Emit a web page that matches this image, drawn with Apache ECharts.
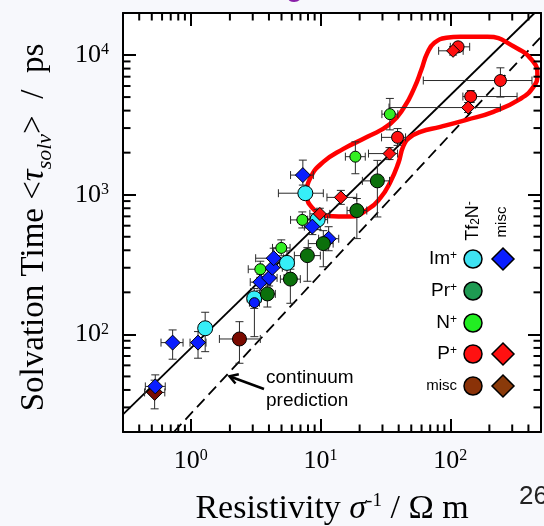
<!DOCTYPE html>
<html>
<head>
<meta charset="utf-8">
<script src="https://cdn.jsdelivr.net/npm/echarts@6/dist/echarts.min.js"></script>
<style>
  html, body { margin: 0; padding: 0; background: #f7f8fc; }
  #chart { width: 544px; height: 526px; }
</style>
</head>
<body>
<div id="chart"></div>
<script>
// Solvation time vs. resistivity of ionic liquids.
// Each point: [resistivity (Ω m), <τsolv> (ps), xLow, xHigh, yLow, yHigh]
const imTf2N = [
  [1.29, 110.6, 1.16, 1.44, 75.2, 144],
  [3.08, 181, 2.72, 3.49, 153.5, 213],
  [5.51, 325, 4.87, 6.24, 266, 396],
  [9.49, 663, 7.95, 11.33, 562, 782],
  [7.63, 1025, 4.73, 10.5, 944, 1113]
];
const imMisc = [
  [0.532, 42.4, 0.446, 0.635, 36.9, 51.3],
  [0.724, 87.3, 0.589, 0.871, 66.4, 107.6],
  [1.136, 87.3, 0.986, 1.309, 67.5, 104.7],
  [3.43, 236.6, 2.87, 4.10, 207, 270],
  [4.01, 253.7, 3.48, 4.62, 222, 289],
  [4.25, 300, 3.56, 5.07, 254, 354],
  [4.35, 351, 3.16, 5.19, 298, 414],
  [8.64, 591, 7.5, 9.95, 518, 674],
  [11.54, 484, 9.66, 13.8, 397, 590],
  [7.30, 1382, 5.87, 8.8, 1172, 1769]
];
const imMiscRound = [
  [3.09, 168.7, 2.83, 3.38, 96.3, 192.5]
];
const prTf2N = [
  [3.89, 194.8, 3.38, 4.48, 157, 229.7],
  [5.85, 248.7, 4.9, 6.98, 167, 293],
  [7.91, 366.4, 6.28, 9.96, 240, 418],
  [10.5, 446.6, 8.04, 12.5, 305, 553],
  [19.04, 770, 16.0, 22.7, 485, 939],
  [27.4, 1256, 21, 34, 693, 1761]
];
const nTf2N = [
  [3.43, 292.7, 2.77, 3.95, 256, 334],
  [4.98, 416, 4.26, 5.82, 365, 475],
  [7.23, 660, 5.87, 8.33, 578, 753],
  [18.54, 1872, 15.53, 22.1, 1413, 2391],
  [34.2, 3774, 29.7, 39.4, 2913, 4891]
];
const pTf2N = [
  [39.2, 2574, 29.5, 45.2, 2256, 2975],
  [143.6, 5046, 125, 327, 4570, 5570],
  [243.3, 6570, 61.9, 426, 5000, 8100],
  [114.8, 11450, 100, 141, 10600, 12300]
];
const pMisc = [
  [9.87, 729, 8.27, 11.78, 665, 800],
  [14.33, 957, 11.2, 19.0, 853, 1074],
  [34.0, 1970, 23.4, 39.2, 1785, 2175],
  [137.1, 4208, 33.7, 243, 3875, 4570],
  [105, 10720, 81.3, 125.6, 10000, 11500]
];
const miscTf2N = [
  [2.37, 92.7, 1.66, 3.43, 62.1, 123.3]
];
const miscMisc = [
  [0.526, 38.4, 0.44, 0.63, 29.3, 47]
];

// Power-law fit through all systems, and the continuum prediction (τ ∝ 1/σ)
const fitLine = [[0.3, 26.7], [446.5, 20000]];
const continuumLine = [[0.74, 20], [500, 13500]];

// Hand-drawn outline around the phosphonium systems (closed loop)
const phosphoniumLoop = [
  [119.6, 13510], [193.2, 13510], [306.5, 11550], [437, 8943], [469, 7216],
  [437, 5920], [347, 4858], [214.8, 3920], [133, 3436], [83.8, 3060],
  [58.8, 2818], [48.4, 2553], [43.5, 2237], [39.8, 1690], [34.5, 1235],
  [28.9, 949], [23.4, 791], [16.96, 699], [11.28, 705], [8.80, 791],
  [7.84, 1014], [8.34, 1320], [10.5, 1718], [14.98, 2129], [22.95, 2596],
  [34.5, 3216], [44.3, 4257], [52.8, 5824], [59.8, 7837], [66.6, 10370],
  [75.4, 12230], [93.3, 13280], [119.6, 13510], [193.2, 13510]
];

// Axis ranges and decade sub-ticks
const xRange = [0.3, 500];
const yRange = [20, 20000];
const xMinorTicks = [0.4, 0.5, 0.6, 0.7, 0.8, 0.9, 2, 3, 4, 5, 6, 7, 8, 9,
  20, 30, 40, 50, 60, 70, 80, 90, 200, 300, 400];
const yMinorTicks = [30, 40, 50, 60, 70, 80, 90, 200, 300, 400, 500, 600, 700, 800, 900,
  2000, 3000, 4000, 5000, 6000, 7000, 8000, 9000];

const SERIF = "'Liberation Serif', 'Times New Roman', serif";
const SANS = "'Liberation Sans', Arial, sans-serif";
const MAJOR_LEN = 13;
const MINOR_LEN = 7.5;

const chart = echarts.init(document.getElementById('chart'), null, { renderer: 'canvas' });

function powerLabel(v) {
  const e = Math.log10(v);
  if (Math.abs(e - Math.round(e)) > 1e-6) return '';
  return '10{s|' + Math.round(e) + '}';
}

const labelRich = {
  s: { fontSize: 16, fontFamily: SERIF, color: '#000', verticalAlign: 'top' }
};

function logAxis(extra) {
  return Object.assign({
    type: 'log',
    logBase: 10,
    axisLine: { show: true, onZero: false, lineStyle: { color: '#000', width: 2 } },
    axisTick: { show: true, inside: true, length: MAJOR_LEN, lineStyle: { color: '#000', width: 2 } },
    minorTick: { show: false },
    splitLine: { show: false },
    nameMoveOverlap: false
  }, extra);
}

function errorBars(params, api) {
  const x = api.value(0), y = api.value(1);
  const c = api.coord([x, y]);
  const l = api.coord([api.value(2), y]);
  const r = api.coord([api.value(3), y]);
  const b = api.coord([x, api.value(4)]);
  const t = api.coord([x, api.value(5)]);
  const cap = 4;
  const st = { stroke: '#2a2a2a', lineWidth: 1 };
  const seg = (x1, y1, x2, y2) => ({ type: 'line', shape: { x1, y1, x2, y2 }, style: st });
  return {
    type: 'group',
    children: [
      seg(l[0], c[1], r[0], c[1]),
      seg(l[0], c[1] - cap, l[0], c[1] + cap),
      seg(r[0], c[1] - cap, r[0], c[1] + cap),
      seg(c[0], b[1], c[0], t[1]),
      seg(c[0] - cap, b[1], c[0] + cap, b[1]),
      seg(c[0] - cap, t[1], c[0] + cap, t[1])
    ]
  };
}

function scatter(name, data, symbol, size, color) {
  return {
    name, type: 'scatter', data: data.map(p => [p[0], p[1]]),
    symbol, symbolSize: size, z: 6,
    itemStyle: { color, borderColor: '#000', borderWidth: 1, opacity: 1 },
    emphasis: { disabled: true }
  };
}

const allPoints = [].concat(imTf2N, imMisc, imMiscRound, prTf2N, nTf2N, pTf2N, pMisc, miscTf2N, miscMisc);

// Legend block (two marker columns: Tf2N⁻ anion and other anions)
const legendRows = [
  { label: 'Im{s|+}', y: 259, circle: '#3ee2f2', diamond: '#0a1eff' },
  { label: 'Pr{s|+}', y: 291, circle: '#1e9a52', diamond: null },
  { label: 'N{s|+}', y: 323, circle: '#22ee22', diamond: null },
  { label: 'P{s|+}', y: 354, circle: '#ff1111', diamond: '#ff1111' },
  { label: 'misc', y: 386, circle: '#8a3208', diamond: '#8a3a0a', small: true }
];
const legendGraphics = [];
legendRows.forEach(row => {
  legendGraphics.push({
    type: 'text', x: 457, y: row.y,
    style: {
      text: row.label, fill: '#000', fontFamily: SANS, fontSize: row.small ? 15 : 19,
      align: 'right', verticalAlign: 'middle', textAlign: 'right', textVerticalAlign: 'middle',
      rich: { s: { fontSize: 12, fontFamily: SANS, verticalAlign: 'top', fill: '#000' } }
    }
  });
  legendGraphics.push({
    type: 'circle', shape: { cx: 473, cy: row.y, r: 9 },
    style: { fill: row.circle, stroke: '#000', lineWidth: 1.5 }
  });
  if (row.diamond) {
    const cx = 503, cy = row.y, h = 11;
    legendGraphics.push({
      type: 'polygon',
      shape: { points: [[cx, cy - h], [cx + h, cy], [cx, cy + h], [cx - h, cy]] },
      style: { fill: row.diamond, stroke: '#000', lineWidth: 1.5 }
    });
  }
});
legendGraphics.push({
  type: 'text', x: 473, y: 221, rotation: Math.PI / 2,
  style: {
    text: 'Tf{b|2}N{s|-}', fill: '#000', fontFamily: SANS, fontSize: 18,
    align: 'center', verticalAlign: 'middle', textAlign: 'center', textVerticalAlign: 'middle',
    rich: {
      b: { fontSize: 12, fontFamily: SANS, verticalAlign: 'bottom', fill: '#000' },
      s: { fontSize: 12, fontFamily: SANS, verticalAlign: 'top', fill: '#000' }
    }
  }
});
legendGraphics.push({
  type: 'text', x: 502, y: 222, rotation: Math.PI / 2,
  style: {
    text: 'misc', fill: '#000', fontFamily: SANS, fontSize: 15,
    align: 'center', verticalAlign: 'middle', textAlign: 'center', textVerticalAlign: 'middle'
  }
});

// "continuum prediction" note with its arrow
const noteGraphics = [
  {
    type: 'text', x: 266, y: 389,
    style: {
      text: 'continuum\nprediction', fill: '#000', fontFamily: SANS, fontSize: 19, lineHeight: 23,
      align: 'left', verticalAlign: 'middle', textAlign: 'left', textVerticalAlign: 'middle'
    }
  },
  {
    type: 'polyline', shape: { points: [[264, 389], [230, 376.5]] },
    style: { stroke: '#000', lineWidth: 2.5, fill: null }
  },
  {
    type: 'polyline', shape: { points: [[235.5, 383.5], [229.5, 376.3], [238.8, 374.2]] },
    style: { stroke: '#000', lineWidth: 2.5, fill: null, lineJoin: 'miter' }
  },
  {
    type: 'text', x: 519, y: 497,
    style: { text: '26', fill: '#222', fontFamily: SANS, fontSize: 26, align: 'left', verticalAlign: 'middle', textAlign: 'left', textVerticalAlign: 'middle' }
  },
  {
    type: 'text', x: 286, y: -12,
    style: { text: 'g', fill: '#8a1fa8', fontFamily: SANS, fontSize: 28, fontWeight: 'bold', align: 'left', verticalAlign: 'middle', textAlign: 'left', textVerticalAlign: 'middle' }
  }
];

const option = {
  animation: false,
  backgroundColor: '#f7f8fc',
  grid: {
    left: 123, right: 3, top: 13, bottom: 94,
    show: true, backgroundColor: '#ffffff', borderWidth: 0,
    containLabel: false, outerBoundsMode: 'none'
  },
  xAxis: [
    logAxis({
      position: 'bottom', min: xRange[0], max: xRange[1],
      axisLabel: { formatter: powerLabel, fontFamily: SERIF, fontSize: 26, color: '#000', margin: 16, rich: labelRich, showMinLabel: false, showMaxLabel: false },
      name: 'Resistivity {i|σ}{p|-1} / Ω m',
      nameLocation: 'middle', nameGap: 60,
      nameTextStyle: {
        fontFamily: SERIF, fontSize: 34, color: '#000',
        rich: {
          i: { fontFamily: SERIF, fontSize: 34, fontStyle: 'italic', color: '#000' },
          p: { fontFamily: SERIF, fontSize: 19, verticalAlign: 'top', color: '#000' }
        }
      }
    }),
    logAxis({ position: 'top', min: xRange[0], max: xRange[1], axisLabel: { show: false } })
  ],
  yAxis: [
    logAxis({
      position: 'left', min: yRange[0], max: yRange[1],
      axisLabel: { formatter: powerLabel, fontFamily: SERIF, fontSize: 26, color: '#000', margin: 14, rich: labelRich, showMinLabel: false, showMaxLabel: false },
      name: 'Solvation Time <{i|τ}{b|solv}>  /  ps',
      nameLocation: 'middle', nameGap: 67, nameRotate: 90,
      nameTextStyle: {
        fontFamily: SERIF, fontSize: 33, color: '#000', lineHeight: 44, padding: [0, 10, 0, 0],
        rich: {
          i: { fontFamily: SERIF, fontSize: 33, fontStyle: 'italic', color: '#000', lineHeight: 44 },
          b: { fontFamily: SERIF, fontSize: 22, fontStyle: 'italic', verticalAlign: 'bottom', color: '#000', lineHeight: 22 }
        }
      }
    }),
    logAxis({ position: 'right', min: yRange[0], max: yRange[1], axisLabel: { show: false } })
  ],
  series: [
    {
      name: 'x sub-ticks', type: 'custom', clip: false, silent: true, z: 10,
      data: xMinorTicks.map(v => [v, yRange[0]]),
      encode: { x: 0, y: 1 },
      renderItem: (params, api) => {
        const v = api.value(0);
        const b = api.coord([v, yRange[0]]);
        const t = api.coord([v, yRange[1]]);
        const st = { stroke: '#000', lineWidth: 2 };
        return { type: 'group', children: [
          { type: 'line', shape: { x1: b[0], y1: b[1], x2: b[0], y2: b[1] - MINOR_LEN }, style: st },
          { type: 'line', shape: { x1: t[0], y1: t[1], x2: t[0], y2: t[1] + MINOR_LEN }, style: st }
        ] };
      }
    },
    {
      name: 'y sub-ticks', type: 'custom', clip: false, silent: true, z: 10,
      data: yMinorTicks.map(v => [xRange[0], v]),
      encode: { x: 0, y: 1 },
      renderItem: (params, api) => {
        const v = api.value(1);
        const l = api.coord([xRange[0], v]);
        const r = api.coord([xRange[1], v]);
        const st = { stroke: '#000', lineWidth: 2 };
        return { type: 'group', children: [
          { type: 'line', shape: { x1: l[0], y1: l[1], x2: l[0] + MINOR_LEN, y2: l[1] }, style: st },
          { type: 'line', shape: { x1: r[0], y1: r[1], x2: r[0] - MINOR_LEN, y2: r[1] }, style: st }
        ] };
      }
    },
    {
      name: 'fit', type: 'line', data: fitLine, symbol: 'none', silent: true, z: 2,
      lineStyle: { color: '#000', width: 1.8 }
    },
    {
      name: 'continuum', type: 'line', data: continuumLine, symbol: 'none', silent: true, z: 2,
      lineStyle: { color: '#000', width: 1.8, type: [11, 6] }
    },
    {
      name: 'P+ outline', type: 'line', data: phosphoniumLoop, symbol: 'none', silent: true, z: 3,
      smooth: 0.5, lineStyle: { color: '#ff0000', width: 4.5, cap: 'round', join: 'round' }
    },
    {
      name: 'error bars', type: 'custom', silent: true, z: 4, clip: false,
      data: allPoints, encode: { x: 0, y: 1 },
      renderItem: errorBars
    },
    scatter('misc Tf2N', miscTf2N, 'circle', 14, '#7a0a00'),
    scatter('misc misc', miscMisc, 'diamond', 16, '#7a0a00'),
    scatter('Im+ Tf2N', imTf2N, 'circle', 15, '#36eef8'),
    scatter('Im+ misc', imMisc, 'diamond', 15, '#0a1eff'),
    scatter('Im+ misc round', imMiscRound, 'circle', 10, '#0a1eff'),
    scatter('Pr+ Tf2N', prTf2N, 'circle', 14, '#0b700b'),
    scatter('N+ Tf2N', nTf2N, 'circle', 11, '#33ee22'),
    scatter('P+ Tf2N', pTf2N, 'circle', 12, '#ff1010'),
    scatter('P+ misc', pMisc, 'diamond', 13, '#ff1010')
  ],
  graphic: { elements: legendGraphics.concat(noteGraphics) }
};

chart.setOption(option);
</script>
</body>
</html>
